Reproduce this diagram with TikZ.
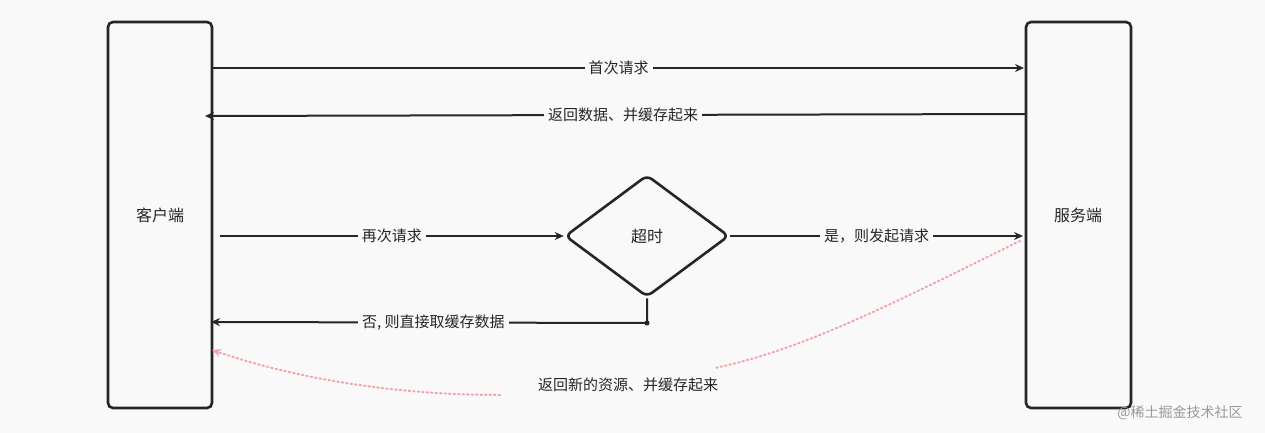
\documentclass[tikz,border=0pt]{standalone}
\usepackage{fontspec}
\setmainfont{Noto Sans CJK SC}
\usetikzlibrary{arrows.meta,shapes.geometric}
\definecolor{bg}{HTML}{F9F9F9}
\definecolor{pinkc}{HTML}{F4A3A8}
\begin{document}
\begin{tikzpicture}[x=1pt,y=-1pt,
  box/.style={draw=black!85,line width=2.6pt,rounded corners=5pt},
  arr/.style={draw=black!85,line width=2pt,-{Stealth[length=9pt,width=8pt]}},
  lbl/.style={fill=bg,font=\fontsize{15}{18}\selectfont,inner sep=4pt,text=black!85},
  every node/.style={font=\fontsize{16}{19}\selectfont,text=black!85}]
\fill[bg] (0,0) rectangle (1265,433);
\useasboundingbox (0,0) rectangle (1265,433);
\draw[box] (108,22) rectangle (212,408);
\draw[box] (1026,22) rectangle (1131,408);
\node (c) at (160,215) {客户端};
\node (s) at (1078,215) {服务端};
\coordinate (a1s) at (213,68); \coordinate (a1e) at (1024,68);
\draw[arr] (a1s) -- node[lbl] {首次请求} (a1e);
\coordinate (a2s) at (1025,114); \coordinate (a2e) at (205,116);
\draw[arr] (a2s) -- node[lbl,pos=0.49] {返回数据、并缓存起来} (a2e);
\node[diamond,draw=black!85,line width=2.6pt,rounded corners=6pt,minimum width=164pt,minimum height=122pt,inner sep=0pt] (d) at (647,236) {};
\node at (d) {超时};
\coordinate (b1) at (220,236);
\draw[arr] (b1) -- node[lbl] {再次请求} (d.west);
\coordinate (b2) at (1023,236);
\draw[arr] (d.east) -- node[lbl] {是，则发起请求} (b2);
\coordinate (k) at (647,323); \coordinate (b3) at (211,322);
\fill[black!85] (k) circle (2.5pt);
\draw[arr] (d.south) -- (k) -- node[lbl,pos=0.49] {否, 则直接取缓存数据} (b3);
\node[font=\fontsize{15}{18}\selectfont] (t) at (628,385) {返回新的资源、并缓存起来};
\coordinate (p1) at (1020,241); \coordinate (p2) at (212,350);
\draw[pinkc,line width=2pt,dash pattern=on 1.5pt off 3pt,line cap=round] (p1) .. controls (880,310) and (800,350) .. (715,368);
\draw[pinkc,line width=2pt,dash pattern=on 1.5pt off 3pt,line cap=round,-{Stealth[length=9pt,width=8pt]}] (500,395) .. controls (400,395) and (300,380) .. (p2);
\node[font=\fontsize{14}{16}\selectfont,text=black!40] (w) at (1180,413) {@稀土掘金技术社区};
\end{tikzpicture}
\end{document}
